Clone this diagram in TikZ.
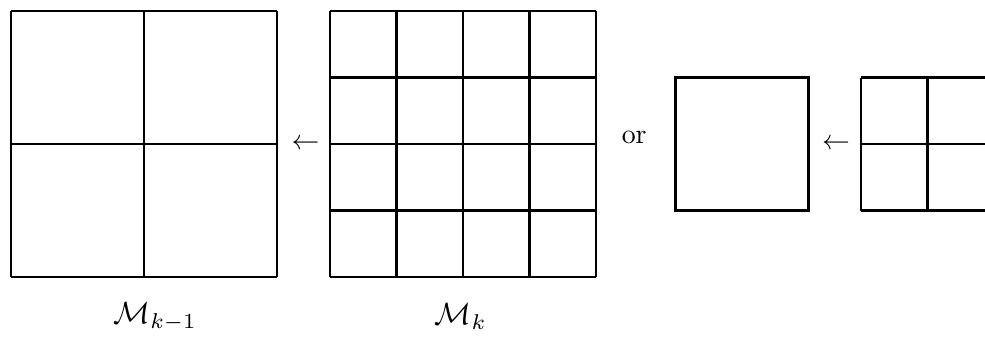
\documentclass[tikz,border=0pt]{standalone}
\usepackage{amsmath,amssymb}
\usepackage{tikz}

\begin{document}
\begin{tikzpicture}[cell/.style={line width=0.9pt}]
  \useasboundingbox (0,0) rectangle (12.44,4.28);
  \draw[cell,shift={(0.14,0.78)}] (0,0) grid[step=1.68] (3.36,3.36);
  \draw[cell,shift={(4.17,0.78)}] (0,0) grid[step=0.84] (3.36,3.36);
  \node[scale=1.1] (gen1) at (1.96,0.28) {$\mathcal{M}_{k-1}$};
  \node[scale=1.1] (gen2) at (5.82,0.28) {$\mathcal{M}_k$};
  \node (arr1) at (3.86,2.46) {$\leftarrow$};
  \node (or) at (8.01,2.54) {or};
  \draw[cell] (8.53,1.62) rectangle (10.21,3.30);
  \node (arr2) at (10.56,2.46) {$\leftarrow$};
  \draw[cell,shift={(10.875,1.62)}] (0,0) grid[step=0.84] (1.68,1.68);
\end{tikzpicture}
\end{document}
